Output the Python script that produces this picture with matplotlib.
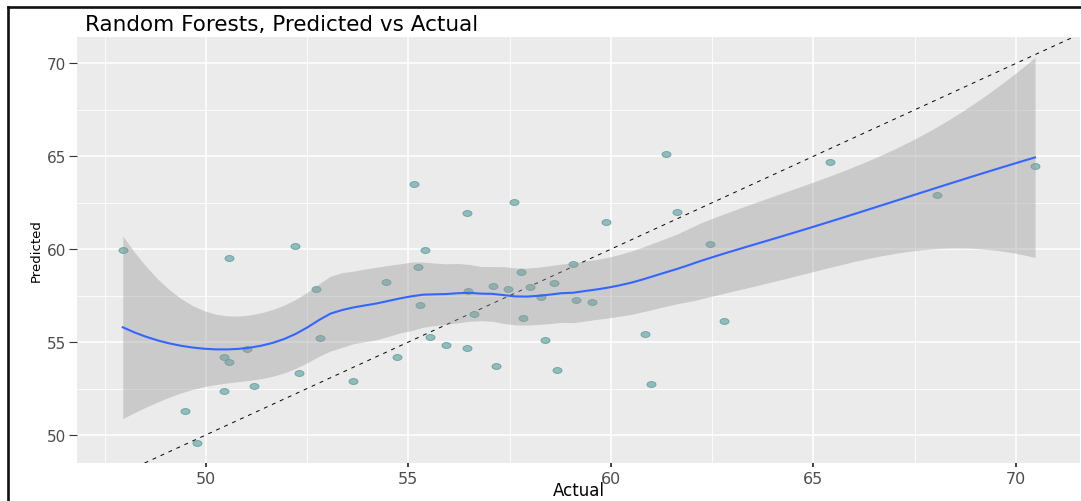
import numpy as np
import matplotlib
matplotlib.use("Agg")
import matplotlib.pyplot as plt
from matplotlib.path import Path
from matplotlib.lines import Line2D

# Observed vs. model-predicted values
actual = [47.95, 49.48, 49.77, 50.46, 50.58, 50.58, 50.46, 51.01, 51.19, 52.21,
          52.29, 52.72, 52.83, 53.63, 54.44, 54.73, 55.13, 55.24, 55.28, 55.42,
          55.53, 55.93, 56.44, 56.44, 56.48, 56.63, 57.10, 57.17, 57.47, 57.60,
          57.79, 57.84, 58.01, 58.27, 58.37, 58.59, 58.67, 59.07, 59.14, 59.54,
          59.87, 60.85, 61.00, 61.36, 61.64, 62.45, 62.78, 65.41, 68.06, 70.47]
predicted = [59.96, 51.30, 49.55, 54.22, 53.91, 59.50, 52.34, 54.61, 52.63, 60.15,
             53.32, 57.83, 55.20, 52.88, 58.22, 54.17, 63.53, 59.06, 57.02, 59.96,
             55.29, 54.86, 61.94, 54.66, 57.76, 56.52, 58.02, 53.72, 57.83, 62.53,
             58.78, 56.29, 57.97, 57.44, 55.09, 58.17, 53.47, 59.20, 57.28, 57.13,
             61.44, 55.45, 52.72, 65.10, 62.00, 60.26, 56.15, 64.71, 62.92, 64.46]

tick_values = [50, 55, 60, 65, 70]
title = "Random Forests, Predicted vs Actual"
x_label = "Actual"
y_label = "Predicted"

x = np.asarray(actual)
y = np.asarray(predicted)


def loess_operator(xd, x_eval, span=0.75):
    """Rows of the local-quadratic (tricube weighted) smoothing operator."""
    n = len(xd)
    q = int(np.floor(n * span))
    rows = []
    for x0 in x_eval:
        d = np.abs(xd - x0)
        h = np.sort(d)[q - 1]
        w = np.clip(1 - (d / h) ** 3, 0, None) ** 3
        X = np.column_stack([np.ones(n), xd - x0, (xd - x0) ** 2])
        XtW = X.T * w
        rows.append(np.linalg.solve(XtW @ X, XtW)[0])
    return np.array(rows)


def t_quantile_975(df):
    # Cornish-Fisher expansion of the Student t quantile
    z = 1.959963985
    g1 = (z ** 3 + z) / 4
    g2 = (5 * z ** 5 + 16 * z ** 3 + 3 * z) / 96
    g3 = (3 * z ** 7 + 19 * z ** 5 + 17 * z ** 3 - 15 * z) / 384
    return z + g1 / df + g2 / df ** 2 + g3 / df ** 3


# loess smooth with 95% confidence band
xs = np.linspace(x.min(), x.max(), 80)
L_data = loess_operator(x, x)
R = np.eye(len(x)) - L_data
RtR = R.T @ R
delta1 = np.trace(RtR)
delta2 = np.trace(RtR @ RtR)
resid = y - L_data @ y
s = np.sqrt(np.sum(resid ** 2) / delta1)
L_grid = loess_operator(x, xs)
fit = L_grid @ y
se = s * np.sqrt(np.sum(L_grid ** 2, axis=1))
tcrit = t_quantile_975(delta1 ** 2 / delta2)
lo, hi = fit - tcrit * se, fit + tcrit * se

W, H = 1081, 502
fig = plt.figure(figsize=(W / 100, H / 100), dpi=100, facecolor="white")
left_px, right_px, top_px, bottom_px = 77, 1080, 38, 464
ax = fig.add_axes([left_px / W, 1 - bottom_px / H,
                   (right_px - left_px) / W, (bottom_px - top_px) / H])
ax.set_facecolor("#EBEBEB")
for sp in ax.spines.values():
    sp.set_visible(False)

ax.set_xlim(46.82, 71.58)
ax.set_ylim(48.49, 71.42)

ax.set_xticks(tick_values)
ax.set_yticks(tick_values)
ax.set_xticks([47.5, 52.5, 57.5, 62.5, 67.5], minor=True)
ax.set_yticks([52.5, 57.5, 62.5, 67.5], minor=True)
ax.grid(which="major", color="white", linewidth=1.1, zorder=0)
ax.grid(which="minor", color="white", linewidth=0.6, zorder=0)
ax.set_axisbelow(True)
ax.tick_params(which="minor", length=0)
ax.tick_params(axis="x", which="major", length=3, width=1.3, color="#333333",
               labelsize=11.5, labelcolor="#4D4D4D", pad=2.5)
ax.tick_params(axis="y", which="major", length=6, width=0.8, color="#333333",
               labelsize=11, labelcolor="#4D4D4D", pad=2)

# identity line
ax.axline((50, 50), slope=1, color="black", linewidth=0.7,
          linestyle=(0, (4, 5)), zorder=3)

# points drawn as slightly wide ellipses
theta = np.linspace(0, 2 * np.pi, 40)
ellipse = Path(np.column_stack([1.55 * np.cos(theta), np.sin(theta)]), closed=True)
ax.scatter(x, y, marker=ellipse, s=42, facecolor="#8DBDBD", edgecolor="#6A9C9C",
           linewidths=0.6, zorder=4)

ax.fill_between(xs, lo, hi, color="#999999", alpha=0.4, linewidth=0, zorder=5)
ax.plot(xs, fit, color="#3366FF", linewidth=1.5, zorder=6)

ax.set_ylabel(y_label, fontsize=9.5, color="black", labelpad=3)
fig.text((left_px + right_px) / 2 / W, 1.5 / H, x_label, fontsize=12,
         color="black", ha="center", va="bottom")

fig.text(85 / W, 1 - 31 / H, title, fontsize=15.5, color="black",
         ha="left", va="baseline")

# frame around the figure
fig.add_artist(Line2D([8 / W, 1.0], [1 - 8 / H, 1 - 8 / H], color="#111111",
                      linewidth=1.9, transform=fig.transFigure))
fig.add_artist(Line2D([8 / W, 8 / W], [1 - 8 / H, 0.0], color="#111111",
                      linewidth=1.9, transform=fig.transFigure))

fig.savefig("out.png", dpi=100, facecolor="white")
